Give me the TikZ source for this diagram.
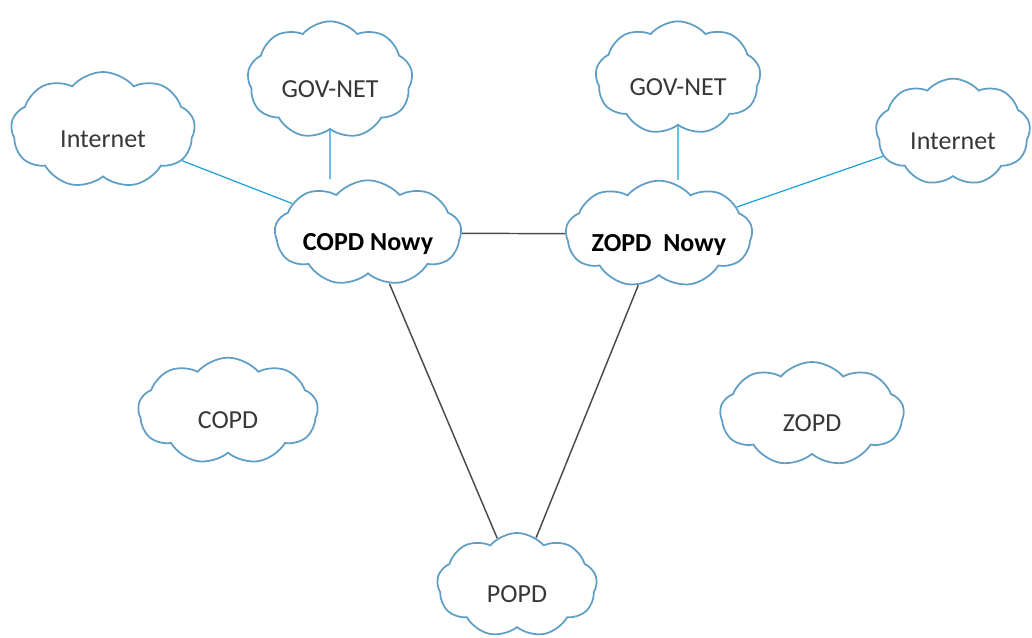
\documentclass[tikz,border=0pt]{standalone}
\usepackage{fontspec}
\setmainfont{Carlito}
\usetikzlibrary{shapes.symbols}
\definecolor{cloudline}{RGB}{95,158,196}
\definecolor{netblue}{RGB}{25,160,220}
\definecolor{trunk}{RGB}{75,75,75}
\definecolor{textgray}{RGB}{55,55,55}

\begin{document}
\begin{tikzpicture}[
  x = 0.75pt,
  y = -0.75pt,
  net/.style = {
    draw = cloudline,
    cloud,
    cloud puffs = 9,
    cloud puff arc = 100,
    cloud ignores aspect,
    line width = 1.3pt,
    fill = white,
    text = textgray,
    font = \fontsize{19.5}{21}\selectfont,
    inner sep = 0pt,
    text height = 26pt,
    text depth = 0pt,
  },
  hub/.style = {
    net,
    text = black,
    font = \fontsize{19.5}{21}\selectfont\bfseries,
  },
  uplink/.style = {
    draw = netblue,
    line width = 0.9pt,
  },
  trunkline/.style = {
    draw = trunk,
    line width = 1.1pt,
  },
]

  \useasboundingbox (0,0) rectangle (1032,638);

  % outer networks
  \node[net, minimum width=138pt, minimum height=87pt] (inetL) at (103,130) {Internet};
  \node[net, minimum width=124pt, minimum height=88pt] (govL) at (330,80) {GOV-NET};
  \node[net, minimum width=124pt, minimum height=85pt] (govR) at (678,78) {GOV-NET};
  \node[net, minimum width=116pt, minimum height=80pt] (inetR) at (953,132) {Internet};

  % new centres
  \node[hub, minimum width=140pt, minimum height=79pt] (copdN) at (368,233) {COPD Nowy};
  \node[hub, minimum width=140pt, minimum height=80pt] (zopdN) at (659,234) {ZOPD~~Nowy\hspace{10pt}};

  % old centres
  \node[net, minimum width=135pt, minimum height=80pt] (copd) at (228,411) {COPD};
  \node[net, minimum width=138pt, minimum height=78pt] (zopd) at (812,414) {ZOPD};
  \node[net, minimum width=120pt, minimum height=78pt] (popd) at (517,585) {POPD};

  \path[uplink] (inetL) -- (copdN);
  \path[uplink] (govL) -- (govL |- copdN.north);
  \path[uplink] (govR) -- (govR |- zopdN.north);
  \path[uplink] (inetR) -- (zopdN);

  \path[trunkline] (copdN) -- (zopdN);
  \path[trunkline] (copdN) -- (popd);
  \path[trunkline] (zopdN) -- (popd);

\end{tikzpicture}
\end{document}
